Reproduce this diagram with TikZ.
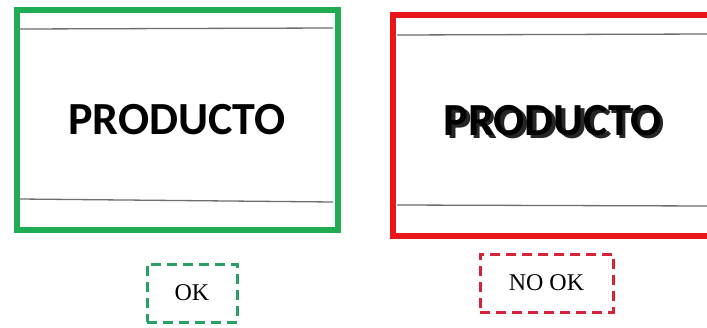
\documentclass[tikz,border=0pt]{standalone}
\usepackage{fontspec}
\setmainfont{Liberation Serif}
\newfontfamily\calib{Carlito}
\usetikzlibrary{shadows}
\definecolor{okgreen}{RGB}{32,172,82}
\definecolor{dashgreen}{RGB}{40,160,100}
\definecolor{nored}{RGB}{232,22,24}
\definecolor{dashred}{RGB}{215,35,55}
\definecolor{rulegray}{RGB}{110,110,110}
\tikzset{
  framebox/.style={draw, line width=6pt, inner sep=0pt, fill=white},
  rule/.style={draw=rulegray, line width=1.3pt},
  bigword/.style={font=\calib\bfseries\fontsize{46}{46}\selectfont, inner sep=0pt},
  tag/.style={line width=3pt, dash pattern=on 10pt off 6pt, inner sep=0pt,
              font=\fontsize{24}{24}\selectfont},
}
\begin{document}
\begin{tikzpicture}[x=1pt,y=-1pt]
\useasboundingbox[fill=white] (0,0) rectangle (707,327);
\clip (0,0) rectangle (707,327);
% green box
\node[framebox, draw=okgreen, minimum width=321pt, minimum height=220pt,
      drop shadow={opacity=0.25, shadow xshift=2pt, shadow yshift=-3pt}]
  (gbox) at (177,120) {};
\draw[rule] (20,29) -- (333,28);
\draw[rule] (20,199) -- (333,202);
\node[bigword] (gword) at (177,120) {PRODUCTO};
% red box
\node[framebox, draw=nored, minimum width=330pt, minimum height=221pt]
  (rbox) at (558,125.5) {};
\draw[rule] (397,35) -- (710,34);
\draw[rule] (397,205) -- (710,206);
\node[bigword, opacity=0.85] (rword2) at (556,123.5) {PRODUCTO};
\node[bigword] (rword) at (552.5,121) {PRODUCTO};
% tags
\node[tag, draw=dashgreen, minimum width=90pt, minimum height=58pt] (ok) at (192,293) {OK};
\node[tag, draw=dashred, minimum width=133pt, minimum height=58pt] (nook) at (546.5,283) {NO OK};
\end{tikzpicture}
\end{document}
